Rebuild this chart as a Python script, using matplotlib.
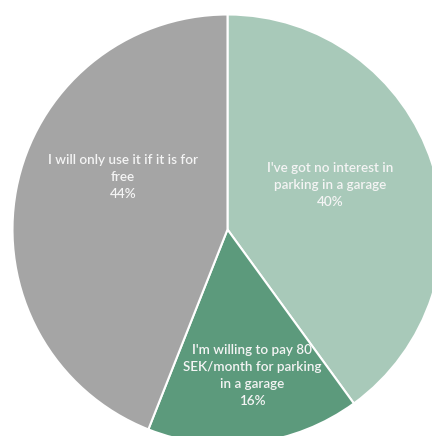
import matplotlib
matplotlib.use("Agg")
import matplotlib.pyplot as plt

labels = ["I've got no interest in\nparking in a garage",
          "I'm willing to pay 80\nSEK/month for parking\nin a garage",
          "I will only use it if it is for\nfree"]
values = [40, 16, 44]
colors = ["#A8C9B9", "#5C9A7C", "#A5A5A5"]
# label anchor positions (pixel coords, from top-left)
label_pos = [(330, 185), (252, 375), (123, 177)]

W, H = 432, 436
fig = plt.figure(figsize=(W / 100, H / 100), dpi=100)
ax = fig.add_axes([0, 0, 1, 1])

cx, cy, r = 227.5, H - 229.5, 215
ax.pie(values, colors=colors, startangle=90, counterclock=False,
       center=(cx, cy), radius=r, frame=True,
       wedgeprops=dict(edgecolor="white", linewidth=1.5))
ax.set_xlim(0, W)
ax.set_ylim(0, H)
ax.set_aspect("equal")
ax.axis("off")

for lab, v, (x, y) in zip(labels, values, label_pos):
    ax.text(x, H - y, f"{lab}\n{v}%", ha="center", va="center",
            color="#F4F4F4", fontsize=9.7, family="Lato", fontweight="semibold",
            linespacing=1.5)

fig.savefig("out.png", dpi=100)
